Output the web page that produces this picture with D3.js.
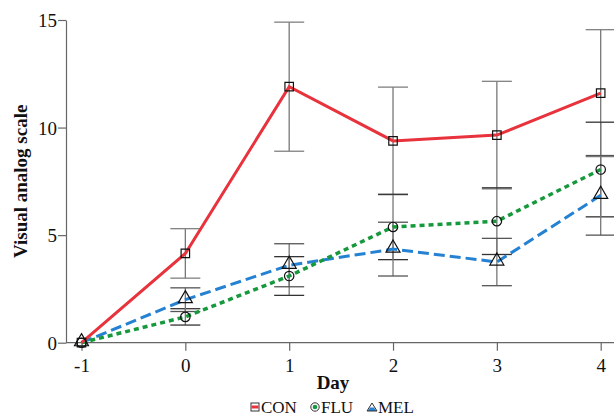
<!DOCTYPE html>
<html>
<head>
<meta charset="utf-8">
<script src="https://cdn.jsdelivr.net/npm/d3@7"></script>
<style>
  body { margin: 0; background: #fff; }
  text { font-family: "Liberation Serif", "Times New Roman", serif; }
</style>
</head>
<body>
<div id="chart"></div>
<script>
// data
const days = [-1, 0, 1, 2, 3, 4];
const xTicks = [-1, 0, 1, 2, 3, 4];
const yTicks = [0, 5, 10, 15];
const conMean = [0, 4.15, 11.9, 9.38, 9.65, 11.6];
const conErr = [0, 1.15, 3.0, 2.5, 2.5, 2.95];
const fluMean = [0, 1.2, 3.1, 5.38, 5.65, 8.05];
const fluErr = [0, 0.38, 0.9, 1.52, 1.55, 2.2];
const melMean = [0, 2.0, 3.6, 4.35, 3.75, 6.85];
const melErr = [0, 0.55, 1.0, 1.25, 1.1, 1.85];

const series = [
    { name: 'CON', mean: conMean, err: conErr, color: '#e8323c', dash: null, width: 3, marker: 'square', capColor: '#808080' },
    { name: 'FLU', mean: fluMean, err: fluErr, color: '#15993c', dash: '5,4', width: 3.5, marker: 'circle', capColor: '#333' },
    { name: 'MEL', mean: melMean, err: melErr, color: '#2581d2', dash: '11,5', width: 3, marker: 'triangle', capColor: '#555' }
];

const width = 614;
const height = 417;

const svg = d3.select('#chart')
    .append('svg')
    .attr('width', width)
    .attr('height', height);

const x = d3.scaleLinear()
    .domain([-1, 4])
    .range([81.5, 600.7]);

const y = d3.scaleLinear()
    .domain([0, 15])
    .range([342.7, 20]);

// Add axes
const xAxis = svg.append('g')
    .attr('transform', `translate(0,${y(0)})`)
    .call(d3.axisBottom(x).tickValues(xTicks).tickFormat(d => String(d)).tickSize(8).tickSizeOuter(0));
xAxis.select('.domain').attr('d', `M66,0H${width}`);

const yAxis = svg.append('g')
    .attr('transform', `translate(66,0)`)
    .call(d3.axisLeft(y).tickValues(yTicks).tickSize(8).tickSizeOuter(0));

[xAxis, yAxis].forEach(ax => {
    ax.select('.domain').attr('stroke', '#666').attr('stroke-width', 1.2);
    ax.selectAll('.tick line').attr('stroke', '#666').attr('stroke-width', 1.2);
    ax.selectAll('.tick text')
        .attr('fill', '#111')
        .style('font-family', '"Liberation Serif", serif')
        .style('font-size', '19px');
});
xAxis.selectAll('.tick text').attr('dy', '0.95em');
yAxis.selectAll('.tick text').attr('dy', '0.35em').attr('x', -9);

// Add labels
svg.append('text')
    .attr('transform', `translate(27,${(y(0) + y(15)) / 2}) rotate(-90)`)
    .attr('text-anchor', 'middle')
    .attr('font-weight', 'bold')
    .attr('font-size', '19px')
    .attr('fill', '#111')
    .text('Visual analog scale');

svg.append('text')
    .attr('x', 333)
    .attr('y', 389)
    .attr('text-anchor', 'middle')
    .attr('font-weight', 'bold')
    .attr('font-size', '19px')
    .attr('fill', '#111')
    .text('Day');

// Error bars
series.forEach(s => {
    const rows = days.map((d, i) => ({ day: d, mean: s.mean[i], err: s.err[i] })).filter(r => r.err > 0);
    const g = svg.append('g');
    g.selectAll('.stem')
        .data(rows)
        .enter()
        .append('line')
        .attr('x1', d => x(d.day))
        .attr('x2', d => x(d.day))
        .attr('y1', d => y(d.mean - d.err))
        .attr('y2', d => y(d.mean + d.err))
        .attr('stroke', '#777')
        .attr('stroke-width', 1.3);
    ['+', '-'].forEach(sign => {
        g.selectAll('.cap' + (sign === '+' ? 'u' : 'l'))
            .data(rows)
            .enter()
            .append('line')
            .attr('x1', d => x(d.day) - 15)
            .attr('x2', d => x(d.day) + 15)
            .attr('y1', d => y(sign === '+' ? d.mean + d.err : d.mean - d.err))
            .attr('y2', d => y(sign === '+' ? d.mean + d.err : d.mean - d.err))
            .attr('stroke', s.capColor)
            .attr('stroke-width', 1.3);
    });
});

// Lines
const line = d3.line()
    .x(d => x(d.day))
    .y(d => y(d.mean));

series.slice().reverse().forEach(s => {
    svg.append('path')
        .datum(days.map((d, i) => ({ day: d, mean: s.mean[i] })))
        .attr('fill', 'none')
        .attr('stroke', s.color)
        .attr('stroke-width', s.width)
        .attr('stroke-dasharray', s.dash)
        .attr('d', line);
});

// Markers
const symbolOf = {
    square: d3.symbol().type(d3.symbolSquare).size(72),
    circle: d3.symbol().type(d3.symbolCircle).size(70),
    triangle: d3.symbol().type(d3.symbolTriangle).size(85)
};

series.forEach(s => {
    svg.append('g')
        .selectAll('path')
        .data(days.map((d, i) => ({ day: d, mean: s.mean[i] })))
        .enter()
        .append('path')
        .attr('transform', d => `translate(${x(d.day)},${y(d.mean) + (s.marker === 'triangle' ? -1 : 0)})`)
        .attr('d', symbolOf[s.marker])
        .attr('fill', 'none')
        .attr('stroke', '#111')
        .attr('stroke-width', 1.2);
});

// Legend
const legendX = [255, 315, 372];
const legend = svg.selectAll('.legend')
    .data(series)
    .enter()
    .append('g')
    .attr('class', 'legend')
    .attr('transform', (d, i) => `translate(${legendX[i]},407)`);

legend.each(function (s) {
    const g = d3.select(this);
    if (s.marker === 'square') {
        g.append('rect').attr('x', -4).attr('y', -4).attr('width', 8).attr('height', 8)
            .attr('fill', '#fff').attr('stroke', '#333').attr('stroke-width', 1);
        g.append('rect').attr('x', -3.5).attr('y', -1.5).attr('width', 7).attr('height', 3).attr('fill', s.color);
    } else if (s.marker === 'circle') {
        g.append('circle').attr('r', 4.2).attr('fill', '#fff').attr('stroke', '#333').attr('stroke-width', 1);
        g.append('circle').attr('r', 2.3).attr('fill', s.color);
    } else {
        g.append('path').attr('d', 'M-4.5,4L4.5,4L1.8,0.5L-1.8,0.5Z').attr('fill', s.color);
        g.append('path').attr('d', 'M0,-4L5,4L-5,4Z').attr('fill', 'none').attr('stroke', '#333').attr('stroke-width', 1);
    }
    g.append('text')
        .attr('x', 6)
        .attr('y', 6)
        .attr('font-size', '17px')
        .attr('fill', '#111')
        .text(s.name);
});
</script>
</body>
</html>
